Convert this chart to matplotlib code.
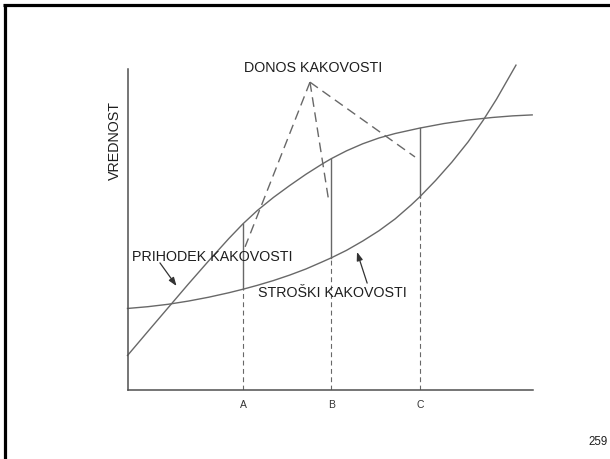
import matplotlib
matplotlib.use("Agg")
import matplotlib.pyplot as plt
from matplotlib.lines import Line2D

plt.rcParams["font.family"] = ["Liberation Sans", "DejaVu Sans"]
plt.rcParams["lines.scale_dashes"] = False

# Quality revenue curve (PRIHODEK KAKOVOSTI)
revenue_x = [0, 5, 10, 15, 20, 25, 28.5, 32, 36, 40, 44, 48, 50.3, 54, 58,
             62, 66, 72.1, 78, 84, 90, 95, 99.8]
revenue_y = [10.75, 18.2, 25.6, 33.0, 40.2, 47.2, 51.8, 55.9, 60.0, 63.7,
             67.2, 70.4, 72.1, 74.5, 76.7, 78.5, 79.9, 81.6, 83.0, 84.1,
             84.9, 85.4, 85.7]

# Quality cost curve (STROŠKI KAKOVOSTI)
cost_x = [0, 5, 10, 15, 20, 25, 28.5, 32, 36, 40, 44, 48, 50.3, 54, 58, 62,
          66, 70, 72.1, 76, 80, 84, 87.7, 91, 95.8]
cost_y = [25.4, 25.95, 26.7, 27.7, 28.9, 30.3, 31.4, 32.6, 34.1, 35.8, 37.7,
          39.9, 41.2, 43.5, 46.4, 49.6, 53.3, 57.7, 60.2, 65.3, 71.0, 77.3,
          84.0, 90.6, 101.2]

# Marked quality levels with revenue / cost values at each
levels = ["A", "B", "C"]
level_x = [28.5, 50.3, 72.1]
level_revenue = [51.8, 72.1, 81.6]
level_cost = [31.4, 41.2, 60.2]

# Leader lines for the "DONOS KAKOVOSTI" label
leader_apex = (45.0, 95.9)
leader_ends_x = [29.0, 49.7, 70.9]
leader_ends_y = [44.6, 58.3, 72.6]

curve_col = "#686868"
axis_col = "#505050"
text_col = "#1e1e1e"

fig = plt.figure(figsize=(6.10, 4.59), dpi=100)
ax = fig.add_axes([127.5 / 610, 69 / 459, 405.5 / 610, 321 / 459])
ax.set_xlim(0, 100)
ax.set_ylim(0, 100)

for side in ("top", "right"):
    ax.spines[side].set_visible(False)
for side in ("left", "bottom"):
    ax.spines[side].set_color(axis_col)
    ax.spines[side].set_linewidth(1.1)

ax.set_yticks([])
ax.set_xticks(level_x)
ax.set_xticklabels(levels, fontsize=7.5, color="#333333")
ax.tick_params(axis="x", length=0, pad=7)

# main curves
ax.plot(revenue_x, revenue_y, color=curve_col, lw=1.0, clip_on=False,
        solid_joinstyle="round")
ax.plot(cost_x, cost_y, color=curve_col, lw=1.0, clip_on=False,
        solid_joinstyle="round")

# verticals: solid between curves, dashed down to the axis
for x, r, c in zip(level_x, level_revenue, level_cost):
    ax.plot([x, x], [c, r], color=curve_col, lw=1.0)
    ax.plot([x, x], [0, c], color=curve_col, lw=0.8, dashes=(3.5, 2.5))

# leader lines
for ex, ey in zip(leader_ends_x, leader_ends_y):
    ax.plot([leader_apex[0], ex], [leader_apex[1], ey], color=curve_col,
            lw=1.0, dashes=(7, 4), clip_on=False)

ax.text(45.8, 100.3, "DONOS KAKOVOSTI", fontsize=10.3, color=text_col,
        ha="center", va="center", clip_on=False)
ax.text(1.1, 41.4, "PRIHODEK KAKOVOSTI", fontsize=10.3, color=text_col,
        ha="left", va="center")
ax.text(32.2, 30.2, "STROŠKI KAKOVOSTI", fontsize=10.3, color=text_col,
        ha="left", va="center")
ax.text(-0.031, 0.776, "VREDNOST", fontsize=10.3, color=text_col,
        rotation=90, ha="center", va="center", transform=ax.transAxes)

arrow_kw = dict(arrowstyle="-|>,head_length=0.5,head_width=0.18",
                color="#333333", lw=0.9, shrinkA=0, shrinkB=0)
ax.annotate("", xy=(12.1, 32.4), xytext=(8.0, 39.6), arrowprops=arrow_kw)
ax.annotate("", xy=(56.6, 43.0), xytext=(59.1, 33.3), arrowprops=arrow_kw)

fig.text(598 / 610, 1 - 442 / 459, "259", fontsize=8.3, color=text_col,
         ha="center", va="center")

# slide frame: top and left edges
fig.add_artist(Line2D([3.3 / 610, 1.0], [1 - 5.3 / 459, 1 - 5.3 / 459],
                      transform=fig.transFigure, color="black", lw=2.3,
                      solid_capstyle="butt"))
fig.add_artist(Line2D([5 / 610, 5 / 610], [0, 1 - 3.8 / 459],
                      transform=fig.transFigure, color="black", lw=2.3,
                      solid_capstyle="butt"))

fig.savefig("out.png", dpi=100, facecolor="white")
